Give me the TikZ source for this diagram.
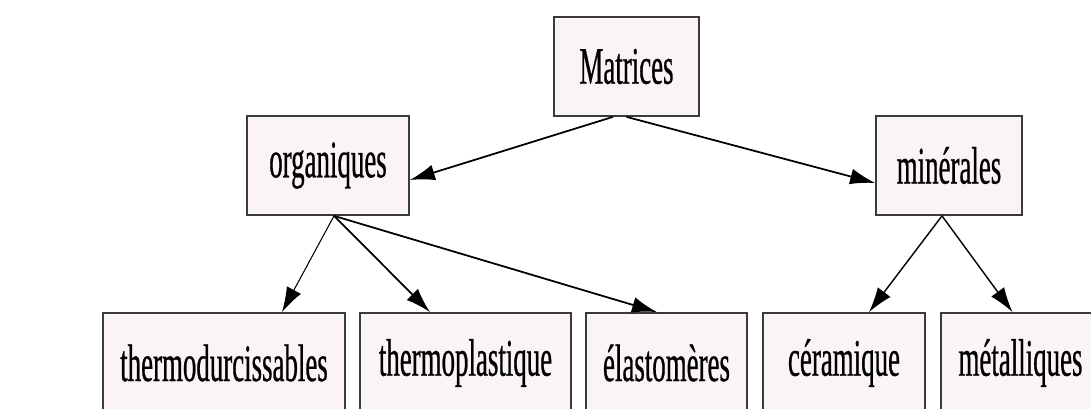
\documentclass[tikz,border=0pt]{standalone}
\usepackage{fontspec}
\setmainfont{Liberation Serif}[FakeStretch=0.51,FakeBold=0.5]
\usepackage{xcolor}
\usetikzlibrary{arrows.meta,positioning}
\definecolor{boxfill}{HTML}{FBF4F4}
\definecolor{boxline}{HTML}{3A3A3A}
\tikzset{
  classbox/.style={
    draw=boxline,
    fill=boxfill,
    line width=1pt,
    minimum height=1.98cm,
    inner sep=0pt,
    font=\fontsize{30}{36}\selectfont,
  },
  link/.style={
    -{Latex[length=0.5cm,width=0.32cm]},
    line width=1pt,
  },
}
\begin{document}
\begin{tikzpicture}
  \useasboundingbox[fill=white] (0,0) rectangle (21.82,-8.18);

  \node[classbox, minimum width=2.9cm] (matrices) at (12.53,-1.33) {Matrices};
  \node[classbox, minimum width=3.24cm] (orga) at (6.56,-3.31) {organiques};
  \node[classbox, minimum width=2.92cm] (mine) at (18.98,-3.31) {minérales};

  % bottom row
  \node[classbox, minimum width=4.84cm, minimum height=2.0cm] (thdur) at (4.48,-7.26) {thermodurcissables};
  \node[classbox, minimum width=4.22cm, minimum height=2.0cm] (thpla) at (9.31,-7.26) {thermoplastique};
  \node[classbox, minimum width=3.22cm, minimum height=2.0cm] (elast) at (13.33,-7.26) {élastomères};
  \node[classbox, minimum width=3.24cm, minimum height=2.0cm] (ceram) at (16.88,-7.26) {céramique};
  \node[classbox, minimum width=3.18cm, minimum height=2.0cm] (metal) at (20.41,-7.26) {métalliques};

  \draw[link] ([xshift=-0.27cm]matrices.south) -- ([yshift=-0.29cm]orga.east);
  \draw[link] (matrices.south) -- ([yshift=-0.35cm]mine.west);

  \draw[link, line width=0.6pt] ([xshift=0.12cm]orga.south) -- ([xshift=1.16cm]thdur.north);
  \draw[link] ([xshift=0.12cm]orga.south) -- ([xshift=-0.71cm]thpla.north);
  \draw[link] ([xshift=0.12cm]orga.south) -- ([xshift=-0.19cm]elast.north);

  \draw[link, line width=0.8pt] ([xshift=-0.14cm]mine.south) -- ([xshift=0.5cm]ceram.north);
  \draw[link, line width=0.8pt] ([xshift=-0.14cm]mine.south) -- ([xshift=-0.16cm]metal.north);
\end{tikzpicture}
\end{document}
